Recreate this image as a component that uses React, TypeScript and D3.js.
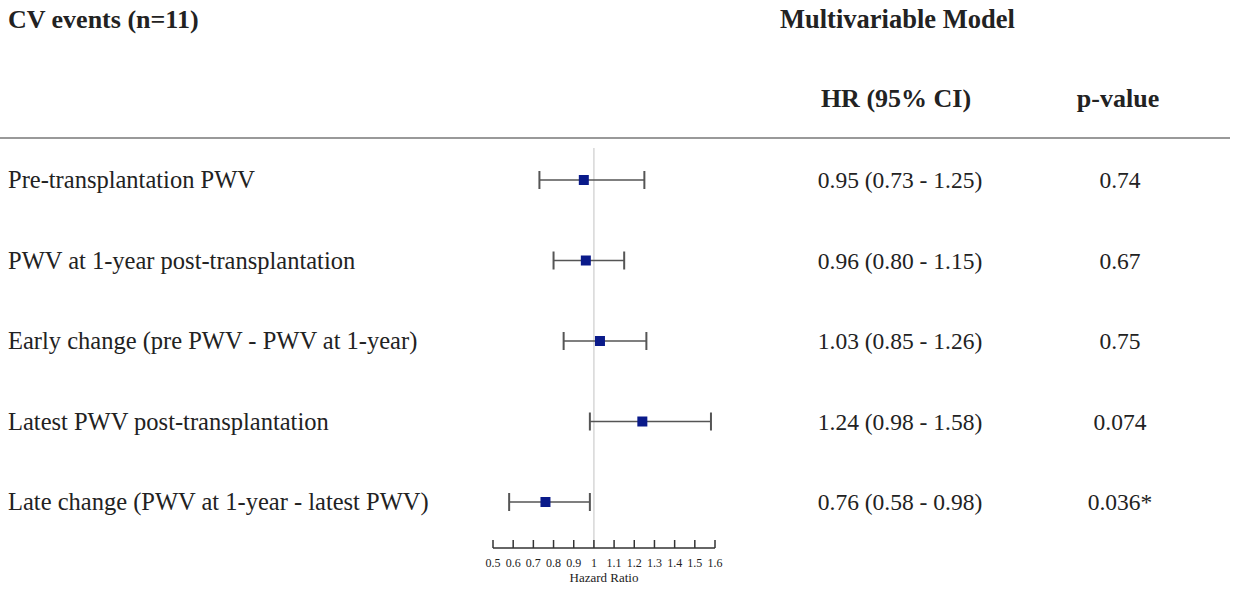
import * as d3 from 'd3'

const labels = [
  'Pre-transplantation PWV',
  'PWV at 1-year post-transplantation',
  'Early change (pre PWV - PWV at 1-year)',
  'Latest PWV post-transplantation',
  'Late change (PWV at 1-year - latest PWV)',
]
const hr = [0.95, 0.96, 1.03, 1.24, 0.76]
const lower = [0.73, 0.8, 0.85, 0.98, 0.58]
const upper = [1.25, 1.15, 1.26, 1.58, 0.98]
const hrText = ['0.95 (0.73 - 1.25)', '0.96 (0.80 - 1.15)', '1.03 (0.85 - 1.26)', '1.24 (0.98 - 1.58)', '0.76 (0.58 - 0.98)']
const pText = ['0.74', '0.67', '0.75', '0.074', '0.036*']
const ticks = [0.5, 0.6, 0.7, 0.8, 0.9, 1, 1.1, 1.2, 1.3, 1.4, 1.5, 1.6]

export default function App() {
  const W = 1235, H = 590
  const x = d3.scaleLinear().domain([0.5, 1.6]).range([493, 715])
  const y = d3.scalePoint<number>().domain(d3.range(labels.length)).range([180, 502])
  const font = '"Liberation Serif", "Times New Roman", serif'
  const axisY = 548
  return (
    <svg width={W} height={H} style={{ position: 'absolute', left: 0, top: 0, background: '#fff' }} fontFamily={font} fill="#222">
      <text x={8} y={28} fontSize={26} fontWeight="bold">CV events (n=11)</text>
      <text x={780} y={28} fontSize={26.5} fontWeight="bold">Multivariable Model</text>
      <text x={896} y={107} fontSize={26} fontWeight="bold" textAnchor="middle">HR (95% CI)</text>
      <text x={1118} y={107} fontSize={26} fontWeight="bold" textAnchor="middle">p-value</text>
      <line x1={0} x2={1230} y1={138} y2={138} stroke="#777" strokeWidth={1.5} />
      <line x1={x(1)} x2={x(1)} y1={148} y2={axisY} stroke="#ccc" strokeWidth={1.2} />
      {labels.map((l, i) => {
        const yy = y(i)!
        return (
          <g key={l}>
            <text x={8} y={yy + 8} fontSize={24.5}>{l}</text>
            <line x1={x(lower[i])} x2={x(upper[i])} y1={yy} y2={yy} stroke="#555" strokeWidth={1.5} />
            <line x1={x(lower[i])} x2={x(lower[i])} y1={yy - 9} y2={yy + 9} stroke="#555" strokeWidth={2} />
            <line x1={x(upper[i])} x2={x(upper[i])} y1={yy - 9} y2={yy + 9} stroke="#555" strokeWidth={2} />
            <rect x={x(hr[i]) - 5} y={yy - 5} width={10} height={10} fill="#0a1a8a" />
            <text x={900} y={yy + 8} fontSize={23.5} textAnchor="middle">{hrText[i]}</text>
            <text x={1120} y={yy + 8} fontSize={23.5} textAnchor="middle">{pText[i]}</text>
          </g>
        )
      })}
      <line x1={x(0.5)} x2={x(1.6)} y1={axisY} y2={axisY} stroke="#333" strokeWidth={1.5} />
      {ticks.map(t => (
        <g key={t}>
          <line x1={x(t)} x2={x(t)} y1={axisY} y2={axisY - 8} stroke="#333" strokeWidth={1.5} />
          <text x={x(t)} y={axisY + 19} fontSize={12} textAnchor="middle">{String(t)}</text>
        </g>
      ))}
      <text x={x(1.05)} y={axisY + 34} fontSize={13} textAnchor="middle">Hazard Ratio</text>
    </svg>
  )
}
